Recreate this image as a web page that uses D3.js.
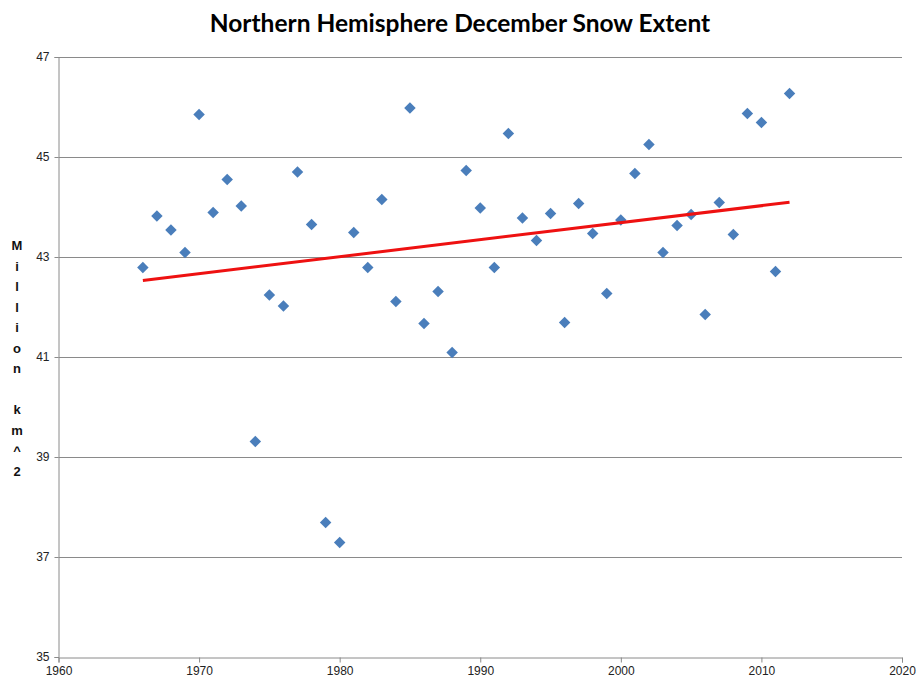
<!DOCTYPE html>
<html>
<head>
<meta charset="utf-8">
<script src="https://cdn.jsdelivr.net/npm/d3@7"></script>
<style>
  body { margin: 0; background: #fff; }
  svg text { font-family: "Liberation Sans", Arial, sans-serif; }
</style>
</head>
<body>
<div id="chart"></div>
<script>
const years = [1966, 1967, 1968, 1969, 1970, 1971, 1972, 1973, 1974, 1975,
  1976, 1977, 1978, 1979, 1980, 1981, 1982, 1983, 1984, 1985,
  1986, 1987, 1988, 1989, 1990, 1991, 1992, 1993, 1994, 1995,
  1996, 1997, 1998, 1999, 2000, 2001, 2002, 2003, 2004, 2005,
  2006, 2007, 2008, 2009, 2010, 2011, 2012];
const extent = [42.79, 43.82, 43.54, 43.09, 45.85, 43.89, 44.55, 44.02, 39.31, 42.24,
  42.02, 44.70, 43.65, 37.69, 37.29, 43.49, 42.79, 44.15, 42.11, 45.98,
  41.67, 42.31, 41.09, 44.73, 43.98, 42.79, 45.47, 43.78, 43.33, 43.87,
  41.69, 44.07, 43.47, 42.27, 43.74, 44.67, 45.25, 43.09, 43.63, 43.85,
  41.85, 44.09, 43.45, 45.87, 45.69, 42.71, 46.27];
const xTicks = [1960, 1970, 1980, 1990, 2000, 2010, 2020];
const yTicks = [35, 37, 39, 41, 43, 45, 47];
const title = "Northern Hemisphere December Snow Extent";
const yLabel = "Million km^2";

const width = 917, height = 684;
const margin = { top: 57, right: 15, bottom: 27, left: 58.5 };

const svg = d3.select("#chart").append("svg")
  .attr("width", width)
  .attr("height", height);

const x = d3.scaleLinear().domain([1960, 2020]).range([margin.left, width - margin.right]);
const y = d3.scaleLinear().domain([35, 47]).range([height - margin.bottom, margin.top]);

// gridlines
svg.append("g")
  .selectAll("line")
  .data(yTicks.slice(1))
  .enter()
  .append("line")
  .attr("x1", margin.left)
  .attr("x2", width - margin.right)
  .attr("y1", d => Math.round(y(d)) + 0.5)
  .attr("y2", d => Math.round(y(d)) + 0.5)
  .attr("stroke", "#8a8a8a")
  .attr("stroke-width", 1);

// y axis
const yAxis = svg.append("g")
  .attr("transform", `translate(${margin.left}, 0)`)
  .call(d3.axisLeft(y).tickValues(yTicks).tickSize(4).tickPadding(5).tickFormat(d3.format("d")));

// x axis
const xAxis = svg.append("g")
  .attr("transform", `translate(0, ${Math.round(y(35)) + 0.5})`)
  .call(d3.axisBottom(x).tickValues(xTicks).tickSize(5).tickPadding(4).tickFormat(d3.format("d")));

[yAxis, xAxis].forEach(a => {
  a.select(".domain").attr("stroke", "#8a8a8a");
  a.selectAll(".tick line").attr("stroke", "#8a8a8a");
  a.selectAll(".tick text")
    .attr("fill", "#222")
    .style("font-size", "12px");
});

// points
const points = years.map((yr, i) => ({ yr, v: extent[i] }));
svg.append("g")
  .selectAll("path")
  .data(points)
  .enter()
  .append("path")
  .attr("d", d3.symbol().type(d3.symbolSquare).size(66))
  .attr("transform", d => `translate(${x(d.yr)}, ${y(d.v)}) rotate(45)`)
  .attr("fill", "#4a7ebb");

// linear trend (least squares)
const mx = d3.mean(years), my = d3.mean(extent);
const slope = d3.sum(points, d => (d.yr - mx) * (d.v - my)) / d3.sum(points, d => (d.yr - mx) ** 2);
const icept = my - slope * mx;
const trend = [years[0], years[years.length - 1]].map(yr => ({ yr, v: icept + slope * yr }));

svg.append("path")
  .datum(trend)
  .attr("d", d3.line().x(d => x(d.yr)).y(d => y(d.v)))
  .attr("stroke", "#ee1111")
  .attr("stroke-width", 3)
  .attr("fill", "none");

// title
svg.append("text")
  .attr("x", 460)
  .attr("y", 32)
  .attr("text-anchor", "middle")
  .style("font-family", "Lato, 'Open Sans', sans-serif")
  .style("font-size", "24.5px")
  .style("font-weight", "bold")
  .attr("fill", "#000")
  .text(title);

// stacked y label
svg.append("g")
  .selectAll("text")
  .data(yLabel.split(""))
  .enter()
  .append("text")
  .attr("x", 17)
  .attr("y", (_, i) => 250 + i * 20.5)
  .attr("text-anchor", "middle")
  .style("font-size", "13px")
  .style("font-weight", "bold")
  .attr("fill", "#111")
  .text(d => d);
</script>
</body>
</html>
